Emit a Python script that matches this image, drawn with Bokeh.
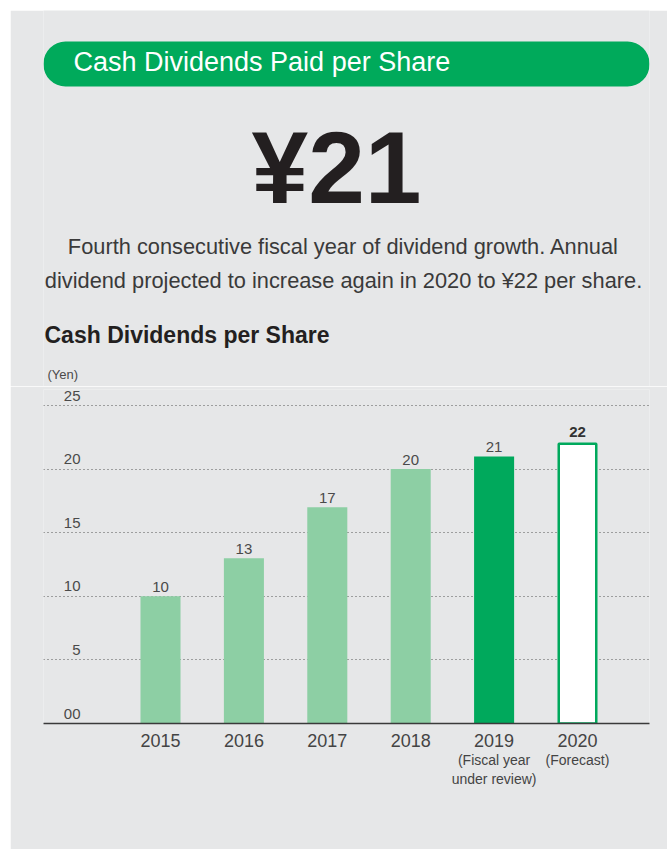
from bokeh.plotting import figure
from bokeh.models import Range1d, LinearAxis, FixedTicker, Grid, BoxAnnotation
from bokeh.layouts import column
from bokeh.core.properties import value
from bokeh.embed import file_html
from bokeh.resources import INLINE

# ---------------- data ----------------
years = ["2015", "2016", "2017", "2018", "2019", "2020"]
year_notes = ["", "", "", "", "(Fiscal year\nunder review)", "(Forecast)"]
dividends = [10, 13, 17, 20, 21, 22]
y_ticks = [0, 5, 10, 15, 20, 25]
y_tick_labels = ["00", "5", "10", "15", "20", "25"]

header_text = "Cash Dividends Paid per Share"
headline_text = "¥21"
body_lines = [
    "Fourth consecutive fiscal year of dividend growth. Annual",
    "dividend projected to increase again in 2020 to ¥22 per share.",
]
chart_title = "Cash Dividends per Share"
unit_label = "(Yen)"

# ---------------- styles ----------------
BG = "#e6e7e8"
GREEN = "#00aa5b"
DARK_GREEN = "#00a95c"
LIGHT_GREEN = "#8dcfa4"
INK = "#231f20"
GREY_TEXT = "#4a4a4a"
FONT_NAME = "Liberation Sans"
FONT = value(FONT_NAME)
SHIFT = 0.365  # alphabetic-baseline correction (fraction of font size)

PAGE_W = 667
PAGE_H = 849
PAD = 10           # white page strip on the left and top
W = PAGE_W - PAD
SPLIT = 386
H1 = SPLIT - PAD
H2 = PAGE_H - SPLIT
FRAME_L = 43       # page x of chart frame left
BR = 18            # right border
TOPB = 3
AXIS_Y = 723       # page y of the x axis line

# ---------------- top (text) figure: page-pixel coordinates ----------------
top = figure(width=W, height=H1, x_range=Range1d(FRAME_L, PAGE_W - BR),
             y_range=Range1d(SPLIT, PAD),
             x_axis_type=None, y_axis_type=None, output_backend="svg",
             toolbar_location=None, min_border=0)
top.min_border_left = 0
top.min_border_right = 0
top.min_border_top = 0
top.min_border_bottom = 0
top.outline_line_color = None
top.background_fill_color = BG
top.border_fill_color = BG

pill = BoxAnnotation(left=43, right=649, top=41, bottom=86, fill_color=GREEN, fill_alpha=1.0,
                     line_color=None, border_radius=22, level="underlay")
top.add_layout(pill)

top.text(x=[73], y=[71 - SHIFT * 27], text=[header_text], text_font=FONT,
         text_font_size="27px", text_color="white", text_align="left",
         text_baseline="alphabetic")
top.text(x=[336], y=[205 - SHIFT * 102], text=[headline_text], text_font=FONT,
         text_font_size="102px", text_font_style="bold", text_color=INK,
         text_align="center", text_baseline="alphabetic")
top.text(x=[343, 343], y=[254 - SHIFT * 22, 288 - SHIFT * 22], text=body_lines,
         text_font=FONT, text_font_size="21.8px", text_color="#3a3a3a", text_align="center",
         text_baseline="alphabetic")
top.text(x=[44], y=[343 - SHIFT * 23], text=[chart_title], text_font=FONT,
         text_font_size="23px", text_font_style="bold", text_color=INK, text_align="left",
         text_baseline="alphabetic")
top.text(x=[47], y=[379 - SHIFT * 13], text=[unit_label], text_font=FONT,
         text_font_size="13px", text_color=GREY_TEXT, text_align="left",
         text_baseline="alphabetic")

# ---------------- bar chart ----------------
xs = list(range(len(years)))
px_per_cat = 83.4
first_center = 160
xr = Range1d((FRAME_L - first_center) / px_per_cat, (PAGE_W - BR - first_center) / px_per_cat)
px_per_unit = (AXIS_Y - 405) / 25
yr = Range1d(0, (AXIS_Y - SPLIT - TOPB) / px_per_unit)
p = figure(width=W, height=H2, x_range=xr, y_range=yr, x_axis_type=None, y_axis_type=None,
           output_backend="svg", toolbar_location=None,
           min_border_left=FRAME_L - PAD, min_border_right=BR, min_border_top=TOPB,
           min_border_bottom=PAGE_H - AXIS_Y)
p.outline_line_color = None
p.background_fill_color = BG
p.border_fill_color = BG

grid = Grid(dimension=1, ticker=FixedTicker(ticks=y_ticks[1:]), grid_line_color="#555555",
            grid_line_dash="1 3", grid_line_width=1)
p.add_layout(grid)

bar_w = 0.48
p.vbar(x=xs[:4], top=dividends[:4], bottom=0, width=bar_w, fill_color=LIGHT_GREEN, line_color=None)
p.vbar(x=xs[4:5], top=dividends[4:5], bottom=0, width=bar_w, fill_color=DARK_GREEN, line_color=None)
p.vbar(x=xs[5:], top=dividends[5:], bottom=0, width=bar_w - 0.03, fill_color="white",
       line_color=DARK_GREEN, line_width=2.5)

p.text(x=xs[:5], y=dividends[:5], text=[str(v) for v in dividends[:5]], text_font=FONT,
       text_font_size="15px", text_color=GREY_TEXT, text_align="center",
       text_baseline="alphabetic", y_offset=-9)
p.text(x=xs[5:], y=dividends[5:], text=[str(v) for v in dividends[5:]], text_font=FONT,
       text_font_size="15px", text_font_style="bold", text_color="#333333", text_align="center",
       text_baseline="alphabetic", y_offset=-12)

p.text(x=[xr.start] * len(y_ticks), y=y_ticks, text=y_tick_labels, text_font=FONT,
       text_font_size="15px", text_color=GREY_TEXT, text_align="right",
       text_baseline="alphabetic", x_offset=37, y_offset=-10)

ax_years = LinearAxis(ticker=FixedTicker(ticks=xs),
                      major_label_overrides={i: y for i, y in zip(xs, years)},
                      axis_line_color="#3a3a3a", axis_line_width=1.5,
                      major_tick_line_color=None, minor_tick_line_color=None,
                      major_tick_out=0, major_tick_in=0, major_label_standoff=10,
                      major_label_text_font=FONT_NAME, major_label_text_font_size="18px",
                      major_label_text_color="#444444")
p.add_layout(ax_years, "below")

note_ticks = [i for i, n in zip(xs, year_notes) if n]
ax_notes = LinearAxis(ticker=FixedTicker(ticks=note_ticks),
                      major_label_overrides={i: year_notes[i] for i in note_ticks},
                      axis_line_color=None, major_tick_line_color=None,
                      minor_tick_line_color=None, major_tick_out=0, major_tick_in=0,
                      major_label_standoff=2, major_label_text_font=FONT_NAME,
                      major_label_text_font_size="14px", major_label_text_color="#444444",
                      major_label_text_line_height=1.2)
p.add_layout(ax_notes, "below")

layout = column(top, p, spacing=0, margin=(PAD, 0, 0, PAD))

with open("out.html", "w") as f:
    f.write(file_html(layout, INLINE))
